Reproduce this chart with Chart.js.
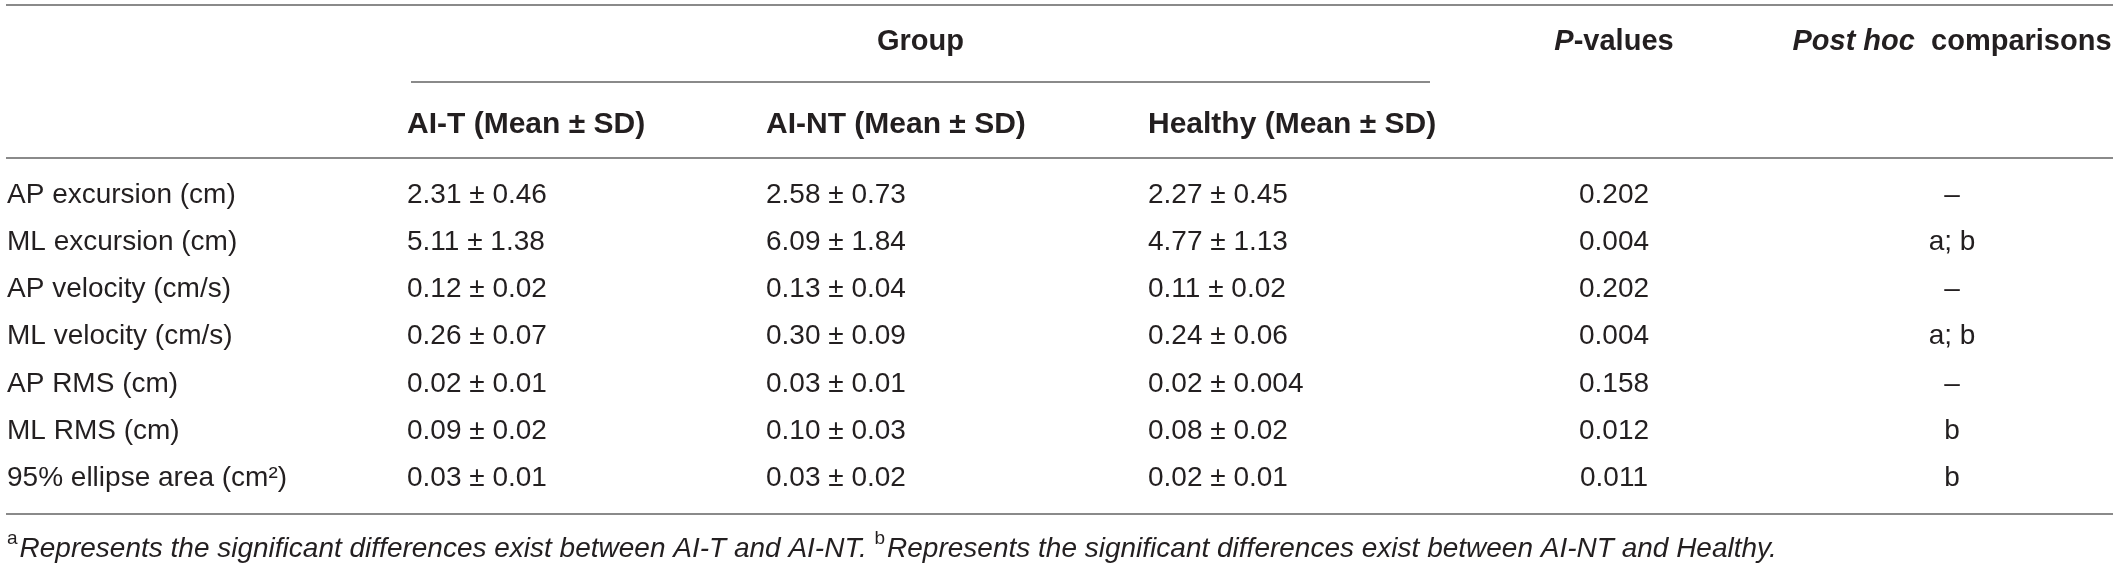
<!DOCTYPE html>
<html>
<head>
<meta charset="utf-8">
<script src="https://cdn.jsdelivr.net/npm/chart.js@4.4.1/dist/chart.umd.min.js"></script>
<style>
  html, body { margin: 0; padding: 0; background: #ffffff; }
  #wrap { width: 2118px; height: 568px; }
</style>
</head>
<body>
<div id="wrap"><canvas id="c" width="2118" height="568"></canvas></div>
<script>
// ---- data ----
const rowLabels = ['AP excursion (cm)', 'ML excursion (cm)', 'AP velocity (cm/s)', 'ML velocity (cm/s)', 'AP RMS (cm)', 'ML RMS (cm)', '95% ellipse area (cm\u00B2)'];
const groupNames = ['AI-T (Mean \u00B1 SD)', 'AI-NT (Mean \u00B1 SD)', 'Healthy (Mean \u00B1 SD)'];
const aiTMean = [2.31, 5.11, 0.12, 0.26, 0.02, 0.09, 0.03];
const aiTSD = [0.46, 1.38, 0.02, 0.07, 0.01, 0.02, 0.01];
const aiNTMean = [2.58, 6.09, 0.13, 0.30, 0.03, 0.10, 0.03];
const aiNTSD = [0.73, 1.84, 0.04, 0.09, 0.01, 0.03, 0.02];
const healthyMean = [2.27, 4.77, 0.11, 0.24, 0.02, 0.08, 0.02];
const healthySD = [0.45, 1.13, 0.02, 0.06, 0.004, 0.02, 0.01];
const pValues = [0.202, 0.004, 0.202, 0.004, 0.158, 0.012, 0.011];
const postHoc = ['\u2013', 'a; b', '\u2013', 'a; b', '\u2013', 'b', 'b'];
const footA = 'Represents the significant differences exist between AI-T and AI-NT. ';
const footB = 'Represents the significant differences exist between AI-NT and Healthy.';

// ---- layout (pixel units of the hidden scales) ----
const L = {
  colLabel: 7, colAiT: 407, colAiNT: 766, colHealthy: 1148, colP: 1614, colPost: 1952,
  groupLineX0: 411, groupLineX1: 1430, lineX0: 6, lineX1: 2113,
  yTop: 5, yHead1: 42, yGroupLine: 82, yHead2: 125, yHeadLine: 158,
  yRow0: 195, rowStep: 47.2, yBottom: 514, yFoot: 549
};
const FONT = '"Liberation Sans", Arial, Helvetica, sans-serif';
const TXT = '#231f20';
const LINE = '#8a8a8a';

function fmt(v) { return (v > 0 && v < 0.01) ? v.toFixed(3) : v.toFixed(2); }
function cell(m, s) { return fmt(m) + ' \u00B1 ' + fmt(s); }

const tablePlugin = {
  id: 'tablePlugin',
  afterDraw(chart) {
    const ctx = chart.ctx;
    const xs = chart.scales.x, ys = chart.scales.y;
    const X = v => xs.getPixelForValue(v);
    const Y = v => ys.getPixelForValue(v);
    ctx.save();
    // rules
    ctx.strokeStyle = LINE; ctx.lineWidth = 2;
    function hline(x0, x1, y) { ctx.beginPath(); ctx.moveTo(X(x0), Y(y)); ctx.lineTo(X(x1), Y(y)); ctx.stroke(); }
    hline(L.lineX0, L.lineX1, L.yTop);
    hline(L.groupLineX0, L.groupLineX1, L.yGroupLine);
    hline(L.lineX0, L.lineX1, L.yHeadLine);
    hline(L.lineX0, L.lineX1, L.yBottom);

    ctx.textBaseline = 'middle';
    ctx.fillStyle = TXT;
    // header row 1
    const h1 = 'bold 29px ' + FONT, h1i = 'italic bold 29px ' + FONT;
    const hb = 'bold 30px ' + FONT;
    ctx.font = h1; ctx.textAlign = 'center';
    ctx.fillText('Group', X((L.groupLineX0 + L.groupLineX1) / 2), Y(L.yHead1));
    function runs(parts, cx, y) {
      let w = 0;
      parts.forEach(p => { ctx.font = p[1]; w += ctx.measureText(p[0]).width; });
      let x = cx - w / 2;
      ctx.textAlign = 'left';
      parts.forEach(p => { ctx.font = p[1]; ctx.fillText(p[0], x, y); x += ctx.measureText(p[0]).width; });
    }
    runs([['P', h1i], ['-values', h1]], X(L.colP), Y(L.yHead1));
    runs([['Post hoc', h1i], ['  comparisons', h1]], X(L.colPost), Y(L.yHead1));
    // header row 2
    ctx.font = hb; ctx.textAlign = 'left';
    const gx = [L.colAiT, L.colAiNT, L.colHealthy];
    groupNames.forEach((g, i) => ctx.fillText(g, X(gx[i]), Y(L.yHead2)));

    // body
    const bf = '28px ' + FONT;
    ctx.font = bf;
    rowLabels.forEach((lab, r) => {
      const y = Y(L.yRow0 + r * L.rowStep);
      ctx.textAlign = 'left';
      ctx.fillText(lab, X(L.colLabel), y);
      ctx.fillText(cell(aiTMean[r], aiTSD[r]), X(L.colAiT), y);
      ctx.fillText(cell(aiNTMean[r], aiNTSD[r]), X(L.colAiNT), y);
      ctx.fillText(cell(healthyMean[r], healthySD[r]), X(L.colHealthy), y);
      ctx.textAlign = 'center';
      ctx.fillText(pValues[r].toFixed(3), X(L.colP), y);
      ctx.fillText(postHoc[r], X(L.colPost), y);
    });

    // footnote
    const fi = 'italic 28px ' + FONT, fs = '19px ' + FONT;
    let x = X(L.colLabel);
    const yf = Y(L.yFoot);
    ctx.textAlign = 'left';
    [['a', fs, -10], [footA, fi, 0], ['b', fs, -10], [footB, fi, 0]].forEach(p => {
      ctx.font = p[1];
      ctx.fillText(p[0], x, yf + p[2]);
      x += ctx.measureText(p[0]).width + (p[2] ? 2 : 0);
    });
    ctx.restore();
  }
};

new Chart(document.getElementById('c'), {
  type: 'scatter',
  data: { datasets: [] },
  options: {
    responsive: false,
    animation: false,
    devicePixelRatio: 1,
    layout: { padding: 0 },
    plugins: { legend: { display: false }, tooltip: { enabled: false } },
    scales: {
      x: { type: 'linear', min: 0, max: 2118, display: false },
      y: { type: 'linear', min: 0, max: 568, reverse: true, display: false }
    }
  },
  plugins: [tablePlugin]
});
</script>
</body>
</html>
